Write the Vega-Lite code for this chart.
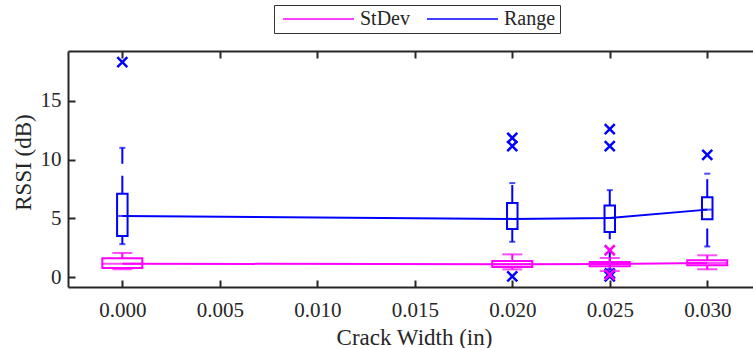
{
  "$schema": "https://vega.github.io/schema/vega-lite/v6.json",
  "width": 685,
  "height": 236,
  "autosize": {"type": "none"},
  "padding": {"left": 68, "top": 51, "right": 0, "bottom": 61},
  "background": "white",
  "datasets": {
    "boxes": [
      {"series": "Range", "crack": 0, "lo": 2.8, "q1": 3.5, "med": 5.2, "q3": 7.1, "hi": 11.0},
      {"series": "Range", "crack": 0.02, "lo": 3.0, "q1": 4.1, "med": 4.95, "q3": 6.3, "hi": 8.0},
      {"series": "Range", "crack": 0.025, "lo": 0.66, "q1": 3.84, "med": 5.03, "q3": 6.1, "hi": 7.4},
      {"series": "Range", "crack": 0.03, "lo": 2.6, "q1": 4.92, "med": 5.74, "q3": 6.8, "hi": 8.8},
      {"series": "StDev", "crack": 0, "lo": 0.66, "q1": 0.76, "med": 1.14, "q3": 1.6, "hi": 2.05},
      {"series": "StDev", "crack": 0.02, "lo": 0.65, "q1": 0.85, "med": 1.08, "q3": 1.36, "hi": 1.93},
      {"series": "StDev", "crack": 0.025, "lo": 0.51, "q1": 0.91, "med": 1.1, "q3": 1.28, "hi": 1.62},
      {"series": "StDev", "crack": 0.03, "lo": 0.66, "q1": 1.0, "med": 1.2, "q3": 1.42, "hi": 1.85}
    ],
    "outliers": [
      {"series": "Range", "crack": 0, "value": 18.3},
      {"series": "Range", "crack": 0.02, "value": 11.85},
      {"series": "Range", "crack": 0.02, "value": 11.15},
      {"series": "Range", "crack": 0.02, "value": 0.05},
      {"series": "Range", "crack": 0.025, "value": 12.6},
      {"series": "Range", "crack": 0.025, "value": 11.15},
      {"series": "Range", "crack": 0.025, "value": 0.3},
      {"series": "Range", "crack": 0.025, "value": 0.05},
      {"series": "Range", "crack": 0.03, "value": 10.4},
      {"series": "StDev", "crack": 0.025, "value": 2.28},
      {"series": "StDev", "crack": 0.025, "value": 0.2}
    ]
  },
  "resolve": {"axis": {"x": "independent"}},
  "layer": [
    {
      "data": {"name": "boxes"},
      "mark": {"type": "rule", "strokeDash": [18, 12], "strokeWidth": 2},
      "encoding": {
        "x": {"field": "crack", "type": "quantitative", "scale": {"domain": [-0.00253, 0.03209], "nice": false, "zero": false},
              "axis": {"orient": "top", "labels": false, "title": null, "values": [0, 0.005, 0.01, 0.015, 0.02, 0.025, 0.03]}},
        "y": {"field": "lo", "type": "quantitative", "title": "RSSI (dB)"},
        "y2": {"field": "q1"},
        "color": {"field": "series", "type": "nominal", "scale": {"domain": ["StDev", "Range"], "range": ["#ff00ff", "#0000ff"]}}
      }
    },
    {
      "data": {"name": "boxes"},
      "mark": {"type": "rule", "strokeDash": [18, 12], "strokeWidth": 2},
      "encoding": {
        "x": {"field": "crack", "type": "quantitative", "axis": null},
        "y": {"field": "q3", "type": "quantitative", "title": "RSSI (dB)"},
        "y2": {"field": "hi"},
        "color": {"field": "series", "type": "nominal", "scale": {"domain": ["StDev", "Range"], "range": ["#ff00ff", "#0000ff"]}}
      }
    },
    {
      "data": {"name": "boxes"},
      "transform": [{"filter": "datum.series === 'StDev'"}, {"fold": ["lo", "hi"], "as": ["k", "v"]}],
      "mark": {"type": "tick", "orient": "horizontal", "size": 20, "thickness": 2, "color": "#ff00ff"},
      "encoding": {
        "x": {"field": "crack", "type": "quantitative", "axis": null},
        "y": {"field": "v", "type": "quantitative", "title": "RSSI (dB)"}
      }
    },
    {
      "data": {"name": "boxes"},
      "transform": [{"filter": "datum.series === 'Range'"}, {"fold": ["lo", "hi"], "as": ["k", "v"]}],
      "mark": {"type": "tick", "orient": "horizontal", "size": 6, "thickness": 2, "color": "#0000ff"},
      "encoding": {
        "x": {"field": "crack", "type": "quantitative", "axis": null},
        "y": {"field": "v", "type": "quantitative", "title": "RSSI (dB)"}
      }
    },
    {
      "data": {"name": "boxes"},
      "transform": [{"filter": "datum.series === 'StDev'"}],
      "mark": {"type": "bar", "filled": false, "width": 40, "stroke": "#ff00ff", "strokeWidth": 2},
      "encoding": {
        "x": {"field": "crack", "type": "quantitative", "axis": null},
        "y": {"field": "q1", "type": "quantitative", "title": "RSSI (dB)"},
        "y2": {"field": "q3"}
      }
    },
    {
      "data": {"name": "boxes"},
      "transform": [{"filter": "datum.series === 'Range'"}],
      "mark": {"type": "bar", "filled": false, "width": 10.5, "stroke": "#0000ff", "strokeWidth": 2},
      "encoding": {
        "x": {"field": "crack", "type": "quantitative", "axis": null},
        "y": {"field": "q1", "type": "quantitative", "title": "RSSI (dB)"},
        "y2": {"field": "q3"}
      }
    },
    {
      "data": {"name": "boxes"},
      "transform": [{"filter": "datum.series === 'StDev'"}],
      "mark": {"type": "tick", "orient": "horizontal", "size": 40, "thickness": 2, "color": "#ff00ff"},
      "encoding": {
        "x": {"field": "crack", "type": "quantitative", "axis": null},
        "y": {"field": "med", "type": "quantitative", "title": "RSSI (dB)"}
      }
    },
    {
      "data": {"name": "boxes"},
      "transform": [{"filter": "datum.series === 'Range'"}],
      "mark": {"type": "tick", "orient": "horizontal", "size": 10.5, "thickness": 2, "color": "#0000ff"},
      "encoding": {
        "x": {"field": "crack", "type": "quantitative", "axis": null},
        "y": {"field": "med", "type": "quantitative", "title": "RSSI (dB)"}
      }
    },
    {
      "data": {"name": "outliers"},
      "mark": {"type": "point", "shape": "M-1,-1L1,1M-1,1L1,-1", "size": 100, "filled": false, "strokeWidth": 2.5, "opacity": 1},
      "encoding": {
        "x": {"field": "crack", "type": "quantitative", "axis": null},
        "y": {"field": "value", "type": "quantitative", "title": "RSSI (dB)"},
        "color": {"field": "series", "type": "nominal", "scale": {"domain": ["StDev", "Range"], "range": ["#ff00ff", "#0000ff"]}}
      }
    },
    {
      "data": {"name": "boxes"},
      "mark": {"type": "line", "strokeWidth": 2, "interpolate": "linear"},
      "encoding": {
        "x": {"field": "crack", "type": "quantitative",
              "axis": {"orient": "bottom", "values": [0, 0.005, 0.01, 0.015, 0.02, 0.025, 0.03], "format": ".3f", "labelPadding": 19, "labelFlush": false, "labelOverlap": false,
                       "title": "Crack Width (in)", "titleX": 346, "titleY": 57, "titleBaseline": "alphabetic", "titleAlign": "center", "titleAnchor": null}},
        "y": {"field": "med", "type": "quantitative", "title": "RSSI (dB)",
              "scale": {"domain": [-0.85, 19.25], "nice": false, "zero": false},
              "axis": {"values": [0, 5, 10, 15], "labelPadding": 14, "labelFlush": false, "titleX": -38, "titleY": 111, "titleBaseline": "alphabetic", "titleAlign": "center", "titleAnchor": null}},
        "color": {"field": "series", "type": "nominal", "scale": {"domain": ["StDev", "Range"], "range": ["#ff00ff", "#0000ff"]},
                  "legend": {"orient": "none", "legendX": 206, "legendY": -46, "direction": "horizontal", "title": null, "symbolType": "stroke",
                             "symbolSize": 5041, "symbolStrokeWidth": 1.5, "clipHeight": 20, "labelFont": "Liberation Serif", "labelFontSize": 20, "labelColor": "#262626",
                             "labelOffset": 5, "columnPadding": 12, "padding": 4, "strokeColor": "#333333", "fillColor": "white", "symbolOffset": 4}}
      }
    }
  ],
  "config": {
    "view": {"stroke": null},
    "axis": {
      "grid": false, "domainColor": "#262626", "domainWidth": 2, "tickColor": "#262626", "tickWidth": 2, "tickSize": -7,
      "labelFont": "Liberation Serif", "labelFontSize": 21, "labelColor": "#262626",
      "titleFont": "Liberation Serif", "titleFontSize": 23, "titleFontWeight": "normal", "titleColor": "#262626"
    }
  }
}
